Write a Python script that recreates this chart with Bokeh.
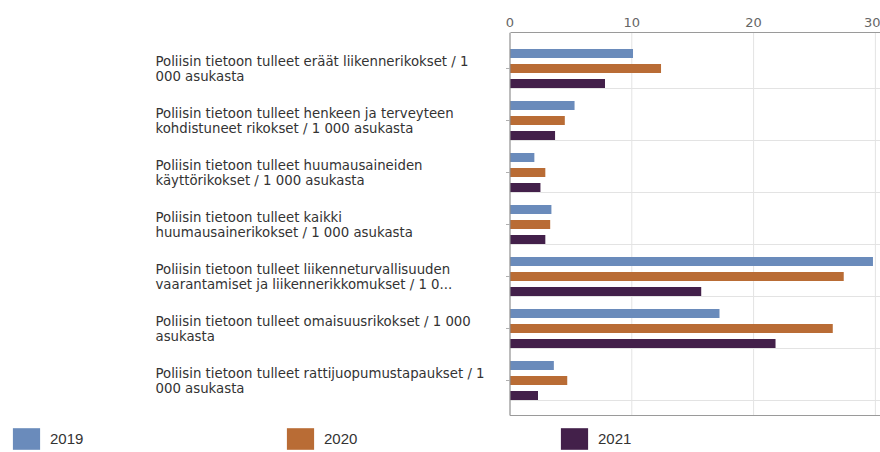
from bokeh.plotting import figure
from bokeh.models import Range1d, FixedTicker, Legend, LegendItem, ColumnDataSource
from bokeh.core.properties import value
from bokeh.embed import file_html
from bokeh.resources import INLINE

# ---------------- data ----------------
categories = [
    "Poliisin tietoon tulleet eräät liikennerikokset / 1\n000 asukasta",
    "Poliisin tietoon tulleet henkeen ja terveyteen\nkohdistuneet rikokset / 1 000 asukasta",
    "Poliisin tietoon tulleet huumausaineiden\nkäyttörikokset / 1 000 asukasta",
    "Poliisin tietoon tulleet kaikki\nhuumausainerikokset / 1 000 asukasta",
    "Poliisin tietoon tulleet liikenneturvallisuuden\nvaarantamiset ja liikennerikkomukset / 1 0...",
    "Poliisin tietoon tulleet omaisuusrikokset / 1 000\nasukasta",
    "Poliisin tietoon tulleet rattijuopumustapaukset / 1\n000 asukasta",
]
series_names = ["2019", "2020", "2021"]
values_2019 = [10.1, 5.3, 2.0, 3.4, 29.8, 17.2, 3.6]
values_2020 = [12.4, 4.5, 2.9, 3.3, 27.4, 26.5, 4.7]
values_2021 = [7.8, 3.7, 2.5, 2.9, 15.7, 21.8, 2.3]
x_ticks = [0, 10, 20, 30]

colors = ["#6a8bbb", "#b96c35", "#43204a"]

# ---------------- layout ----------------
W, H = 880, 452
ZERO_PX = 509.5
PX_PER_UNIT = 12.18
x_start = -ZERO_PX / PX_PER_UNIT
x_end = (W - ZERO_PX) / PX_PER_UNIT
TOP_BORDER = 32
CAT_PX = 52.0
FIRST_CENTER_PX = 36.0
CHART_H_PX = 383.0
n = len(categories)
frame_h = H - TOP_BORDER
pos = [float(n - 1 - k) for k in range(n)]
y_end = (n - 1) + FIRST_CENTER_PX / CAT_PX
y_start = y_end - frame_h / CAT_PX
chart_bottom = y_end - CHART_H_PX / CAT_PX
bar_h = 9.0 / CAT_PX
bar_off = 15.0 / CAT_PX
label_x = (155 - ZERO_PX) / PX_PER_UNIT

p = figure(width=W, height=H, output_backend="svg", toolbar_location=None,
           x_range=Range1d(x_start, x_end), y_range=Range1d(y_start, y_end),
           x_axis_location="above", y_axis_location=None,
           min_border_left=0, min_border_right=0, min_border_bottom=0,
           min_border_top=TOP_BORDER)
p.outline_line_color = None
p.xgrid.visible = False
p.ygrid.visible = False

ax = p.xaxis[0]
ax.ticker = FixedTicker(ticks=x_ticks)
ax.bounds = (0, x_end)
ax.axis_line_color = "#9a9a9a"
ax.major_tick_out = 0
ax.major_tick_in = 0
ax.minor_tick_line_color = None
ax.major_label_standoff = 6
ax.major_label_text_font = "DejaVu Sans"
ax.major_label_text_font_size = "13px"
ax.major_label_text_color = "#666666"

# grid lines
p.segment(x0=x_ticks[1:], y0=[chart_bottom] * 3, x1=x_ticks[1:], y1=[y_end] * 3,
          line_color="#e3e3e3", line_width=1)
grid_y = [v - 20.0 / CAT_PX for v in pos]
p.segment(x0=[0] * n, y0=grid_y, x1=[x_end] * n, y1=grid_y,
          line_color="#e3e3e3", line_width=1)

# bars
series = [values_2019, values_2020, values_2021]
offsets = [bar_off, 0.0, -bar_off]
renderers = []
for name, vals, col, off in zip(series_names, series, colors, offsets):
    src = ColumnDataSource(dict(y=[v + off for v in pos], right=vals))
    r = p.hbar(y="y", height=bar_h, left=0, right="right", source=src,
               fill_color=col, line_color=None)
    renderers.append(r)

# axis frame lines
p.segment(x0=[0], y0=[chart_bottom], x1=[0], y1=[y_end], line_color="#8f8f8f", line_width=1.2)
p.segment(x0=[0], y0=[chart_bottom], x1=[x_end], y1=[chart_bottom], line_color="#9a9a9a", line_width=1.2)
tick_len = 4.0 / PX_PER_UNIT
p.segment(x0=[-tick_len] * n, y0=pos, x1=[0] * n, y1=pos, line_color="#b0b0b0", line_width=1)

# category labels (two lines each)
line1 = [c.split("\n")[0] for c in categories]
line2 = [c.split("\n")[1] if "\n" in c else "" for c in categories]
for txt, off in ((line1, -7.5), (line2, 7.5)):
    p.text(x=[label_x] * n, y=pos, text=txt, y_offset=off,
           text_font=value("DejaVu Sans"), text_font_size="13.3px",
           text_color="#333333", text_align="left", text_baseline="middle")

legend = Legend(items=[LegendItem(label=nm, renderers=[r]) for nm, r in zip(series_names, renderers)],
                location=(9, 0), orientation="horizontal",
                glyph_width=34, glyph_height=27, label_standoff=7,
                label_width=233, spacing=0, padding=0, margin=0,
                border_line_color=None, background_fill_alpha=0,
                label_text_font="Liberation Sans", label_text_font_size="15px",
                label_text_color="#333333")
p.add_layout(legend)

open("out.html", "w").write(file_html(p, INLINE))
